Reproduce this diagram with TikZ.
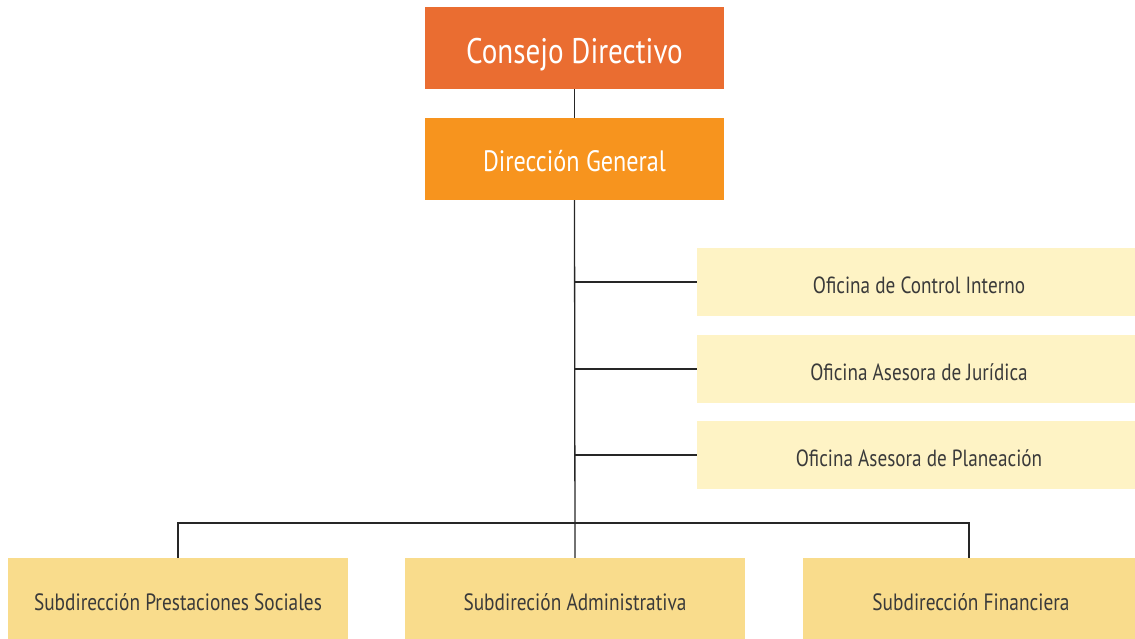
\documentclass[tikz,border=0pt]{standalone}
\usepackage{fontspec}
\setmainfont[FakeStretch=0.82]{PT Sans}
\definecolor{cdcol}{HTML}{EA6D31}
\definecolor{dgcol}{HTML}{F7941E}
\definecolor{offcol}{HTML}{FEF3C5}
\definecolor{subcol}{HTML}{F9DC8C}
\definecolor{txtcol}{HTML}{3A3A3A}
\begin{document}
\begin{tikzpicture}[x=1pt,y=-1pt,
  topbox/.style={inner sep=0pt, minimum width=299pt, minimum height=82pt, text=white, text depth=0pt},
  offbox/.style={fill=offcol, inner sep=0pt, minimum width=438pt, minimum height=68pt, text=txtcol, font=\fontsize{23.4}{26}\selectfont, text height=22.4pt, text depth=0pt},
  subbox/.style={fill=subcol, inner sep=0pt, minimum height=81pt, text=txtcol, font=\fontsize{23.6}{26}\selectfont, text height=24.5pt, text depth=0pt},
  conn/.style={draw=black!85, line width=1.3pt}]
\useasboundingbox (0,0) rectangle (1135,639);
\node[topbox, fill=cdcol, font=\fontsize{35.5}{40}\selectfont, text height=30.8pt] (cd) at (574.5,48) {Consejo Directivo};
\node[topbox, fill=dgcol, font=\fontsize{29.5}{34}\selectfont, text height=24.6pt] (dg) at (574.5,159) {Dirección General};
\node[offbox] (o1) at (916,282) {\hspace{6pt}Oficina de Control Interno};
\node[offbox] (o2) at (916,369) {\hspace{6pt}Oficina Asesora de Jurídica};
\node[offbox] (o3) at (916,455) {\hspace{6pt}Oficina Asesora de Planeación};
\node[subbox, minimum width=340pt] (s1) at (178,598.5) {Subdirección Prestaciones Sociales};
\node[subbox, minimum width=340pt] (s2) at (575,598.5) {Subdireción Administrativa};
\node[subbox, minimum width=332pt] (s3) at (969,598.5) {\hspace{4pt}Subdirección Financiera};
\coordinate (bus) at (575,523);
\draw[conn] (cd) -- (dg);
\draw[conn] (dg.south) -- (s2.north);
\draw[conn] (dg.south |- o1.west) -- (o1.west);
\draw[conn] (dg.south |- o2.west) -- (o2.west);
\draw[conn] (dg.south |- o3.west) -- (o3.west);
\draw[conn] (s1.north) |- (bus) -| (s3.north);
\end{tikzpicture}
\end{document}
